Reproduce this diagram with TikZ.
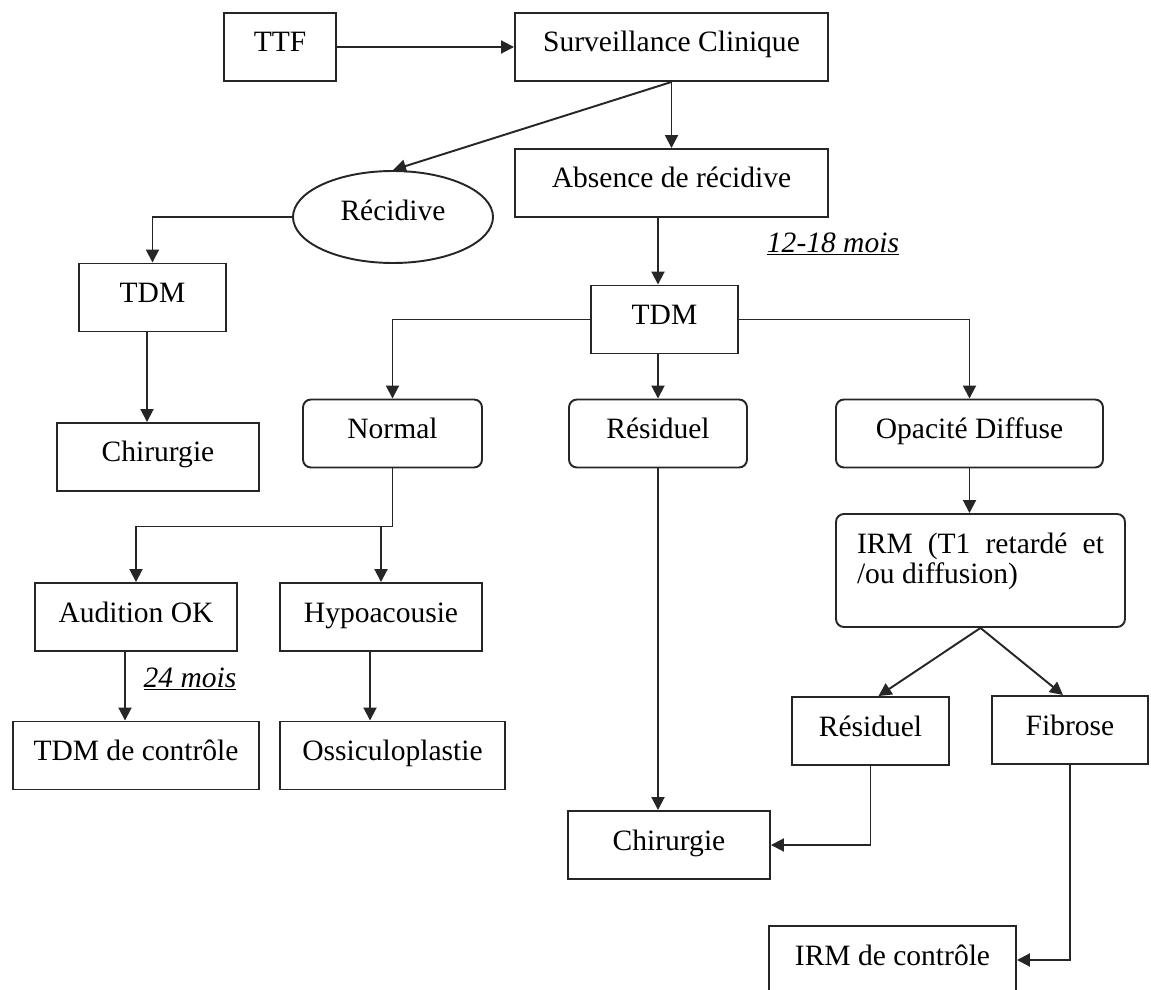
\documentclass[tikz,border=0pt]{standalone}
\usepackage{fontspec}
\setmainfont{Liberation Serif}
\usetikzlibrary{arrows.meta,shapes.geometric}

\begin{document}
\begin{tikzpicture}[
    x=0.2mm, y=-0.2mm,
    font=\fontsize{16.8}{17.6}\selectfont,
    >={Triangle[length=2.6mm, width=2.6mm]},
    linkline/.style={draw=black!85, line width=1.1pt},
    squarebox/.style={rectangle, linkline, text height=4.2mm, text depth=2.2mm, inner ysep=3.6mm, inner xsep=2mm},
    roundbox/.style={squarebox, rounded corners=1.6mm},
    ovalnode/.style={ellipse, linkline, minimum width=40mm, minimum height=18.4mm, inner sep=0pt, text height=4.2mm, text depth=2.8mm},
    delay/.style={anchor=base, inner sep=0pt, font=\fontsize{16.8}{17.6}\selectfont\itshape}
    ]
        \useasboundingbox (0,0) rectangle (1151,990);

        %Nodes
        \node[squarebox, minimum width=22.4mm]
            (ttf)       at (280,47)         {TTF};
        \node[squarebox, minimum width=62.6mm]
            (surv)      at (671.5,47)       {Surveillance Clinique};
        \node[squarebox, minimum width=62.6mm]
            (abs)       at (671.5,183)      {Absence de récidive};
        \node[ovalnode]
            (rec)       at (393,217)        {Récidive};
        \node[squarebox, minimum width=29.4mm]
            (tdmL)      at (152.5,297.5)    {TDM};
        \node[squarebox, minimum width=40.4mm]
            (chirL)     at (158,457)        {Chirurgie};
        \node[squarebox, minimum width=29.4mm]
            (tdmC)      at (664.5,319.5)    {TDM};
        \node[roundbox, minimum width=35.8mm]
            (normal)    at (392.5,433.5)    {Normal};
        \node[roundbox, minimum width=35.6mm]
            (resC)      at (658,433.5)      {Résiduel};
        \node[roundbox, minimum width=53.4mm]
            (opac)      at (969.5,433.5)    {Opacité Diffuse};
        \node[roundbox, text width=49.4mm, align=justify, text depth=11.2mm, minimum width=57.8mm]
            (irm)       at (980.5,570.5)    {IRM (T1 retardé et\linebreak /ou diffusion)};
        \node[squarebox, minimum width=40.4mm]
            (audi)      at (136,617)        {Audition OK};
        \node[squarebox, minimum width=40.4mm]
            (hypo)      at (381,617)        {Hypoacousie};
        \node[squarebox, minimum width=49.2mm]
            (tdmctl)    at (136,755.5)      {TDM de contrôle};
        \node[squarebox, minimum width=45mm]
            (ossi)      at (392.5,755.5)    {Ossiculoplastie};
        \node[squarebox, minimum width=31.4mm]
            (resB)      at (870.5,731)      {Résiduel};
        \node[squarebox, minimum width=31.2mm]
            (fib)       at (1070,730)       {Fibrose};
        \node[squarebox, minimum width=40.4mm]
            (chirC)     at (669,845)        {Chirurgie};
        \node[squarebox, minimum width=49.4mm]
            (irmctl)    at (892.5,960)      {IRM de contrôle};

        \node[delay]
            (d1218)     at (833,252)        {\underline{12-18 mois}};
        \node[delay]
            (d24)       at (190,687)        {\underline{24 mois}};

        %Lines
        \draw[->, linkline] (ttf.east) -- (surv.west);
        \draw[->, linkline] (surv.south) -- (abs.north);
        \draw[->, linkline] (surv.south) -- (rec.north);
        \draw[->, linkline] (rec.west) -| (tdmL.north);
        \draw[->, linkline] ([xshift=-1.1mm]tdmL.south) -- ([xshift=-1.1mm]tdmL.south |- chirL.north);
        \draw[->, linkline] (abs.south -| resC) -- (tdmC.north -| resC);
        \draw[->, linkline] (tdmC.west) -| (normal.north);
        \draw[->, linkline] (tdmC.south -| resC) -- (resC.north);
        \draw[->, linkline] (tdmC.east) -| (opac.north);
        \draw[linkline] (normal.south) -- ++(0,58) coordinate (nfork);
        \draw[->, linkline] (nfork) -| (audi.north);
        \draw[->, linkline] (nfork -| hypo.north) -- (hypo.north);
        \draw[->, linkline] ([xshift=-2.2mm]audi.south) -- ([xshift=-2.2mm]tdmctl.north);
        \draw[->, linkline] ([xshift=-2.2mm]hypo.south) -- ([xshift=-2.2mm]hypo.south |- ossi.north);
        \draw[->, linkline] (resC.south) -- (resC.south |- chirC.north);
        \draw[->, linkline] (opac.south) -- (opac.south |- irm.north);
        \draw[->, linkline] (irm.south) -- ([xshift=1.6mm]resB.north);
        \draw[->, linkline] (irm.south) -- ([xshift=-1.4mm]fib.north);
        \draw[->, linkline] (resB.south) |- (chirC.east);
        \draw[->, linkline] (fib.south) |- (irmctl.east);
    \end{tikzpicture}
\end{document}
